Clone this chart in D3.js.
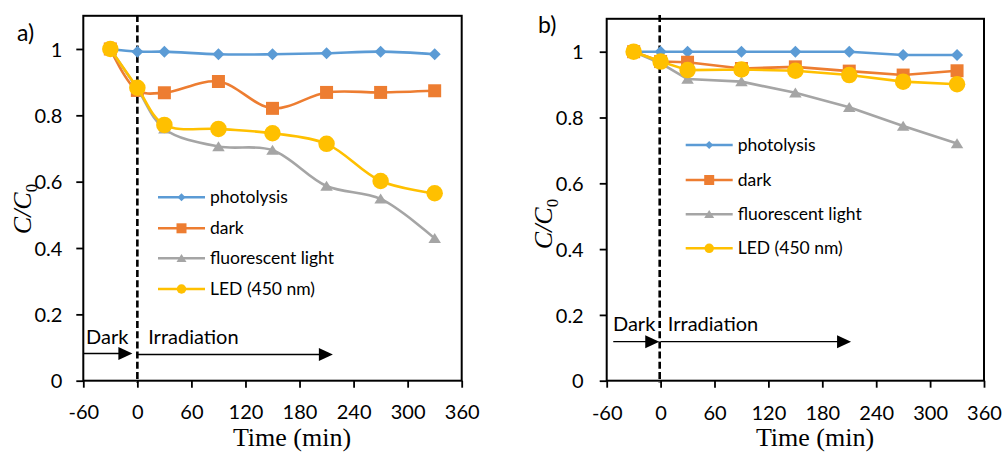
<!DOCTYPE html>
<html>
<head>
<meta charset="utf-8">
<script src="https://cdn.jsdelivr.net/npm/d3@7"></script>
<style>
  body { margin: 0; background: #fff; }
  svg { display: block; }
  .tick-label { font-family: Lato, "Open Sans", sans-serif; font-size: 20px; fill: #000; }
  .legend-label { font-family: Lato, "Open Sans", sans-serif; font-size: 17.5px; fill: #000; }
  .note { font-family: Lato, "Open Sans", sans-serif; font-size: 20px; fill: #000; }
  .panel-label { font-family: Lato, "Open Sans", sans-serif; font-size: 23px; fill: #000; }
  .axis-title { font-family: "Liberation Serif", "Times New Roman", serif; font-size: 26px; fill: #000; }
</style>
</head>
<body>
<svg id="chart" width="1003" height="452"></svg>
<script>
// Sampling times (min); -30 is the start of the dark adsorption period
const times = [-30, 0, 30, 90, 150, 210, 270, 330];

const seriesNames  = ["photolysis", "dark", "fluorescent light", "LED (450 nm)"];
const seriesColors = ["#5B9BD5", "#ED7D31", "#A5A5A5", "#FFC000"];
const seriesShapes = ["diamond", "square", "triangle", "circle"];

// Panel a) C/C0 values
const aPhotolysis  = [1.000, 0.992, 0.992, 0.984, 0.984, 0.987, 0.992, 0.984];
const aDark        = [1.000, 0.875, 0.868, 0.902, 0.821, 0.869, 0.869, 0.874];
const aFluorescent = [1.000, 0.880, 0.759, 0.706, 0.695, 0.587, 0.548, 0.429];
const aLed         = [1.000, 0.883, 0.771, 0.759, 0.746, 0.714, 0.602, 0.565];

// Panel b) C/C0 values
const bPhotolysis  = [1.000, 1.000, 1.000, 1.000, 1.000, 1.000, 0.990, 0.990];
const bDark        = [1.000, 0.970, 0.968, 0.949, 0.954, 0.941, 0.929, 0.942];
const bFluorescent = [1.000, 0.965, 0.917, 0.909, 0.875, 0.831, 0.774, 0.721];
const bLed         = [1.000, 0.970, 0.944, 0.946, 0.942, 0.929, 0.909, 0.901];

const xTicks = [-60, 0, 60, 120, 180, 240, 300, 360];
const yTicks = [0, 0.2, 0.4, 0.6, 0.8, 1];
const xDomain = [-60, 360];
const yDomain = [0, 1.1];

// Dark / irradiation periods (min) shown by arrows
const aDarkPeriod = [-60, -5.5];
const aIrrPeriod  = [0, 217];
const bDarkPeriod = [-52.7, -1.5];
const bIrrPeriod  = [0, 212];

const svg = d3.select("#chart");

function markerPath(shape, s) {
  // s = nominal size in px
  const h = s / 2;
  switch (shape) {
    case "diamond":  return `M0,${-h}L${h},0L0,${h}L${-h},0Z`;
    case "square":   return `M${-h},${-h}H${h}V${h}H${-h}Z`;
    case "triangle": return `M0,${-h * 0.85}L${h},${h * 0.75}L${-h},${h * 0.75}Z`;
    default:         return d3.symbol(d3.symbolCircle, Math.PI * h * h)();
  }
}

const markerSizes = { diamond: 12, square: 13, triangle: 12.5, circle: 16.5 };
const legendMarkerSizes = { diamond: 8, square: 10, triangle: 10, circle: 9.5 };

function drawPanel(cfg) {
  const g = svg.append("g");
  const x = d3.scaleLinear().domain(xDomain).range([cfg.left, cfg.right]);
  const y = d3.scaleLinear().domain(yDomain).range([cfg.bottom, cfg.top]);

  // X axis (plain hyphen for negative values)
  const xAxis = g.append("g")
    .attr("transform", `translate(0,${cfg.bottom})`)
    .call(d3.axisBottom(x).tickValues(xTicks).tickSize(7).tickPadding(8).tickFormat(d => String(d)));
  xAxis.select(".domain").remove();
  xAxis.selectAll(".tick line").attr("stroke", "#000").attr("stroke-width", 1.8);
  xAxis.selectAll(".tick text").attr("class", "tick-label").attr("font-family", null).attr("font-size", null)
    .attr("dy", null).attr("y", cfg.xLabelY - cfg.bottom);

  // Y axis
  const yAxis = g.append("g")
    .attr("transform", `translate(${cfg.left},0)`)
    .call(d3.axisLeft(y).tickValues(yTicks).tickSize(7).tickPadding(cfg.yPad).tickFormat(d => String(d)));
  yAxis.select(".domain").remove();
  yAxis.selectAll(".tick line").attr("stroke", "#000").attr("stroke-width", 1.8);
  yAxis.selectAll(".tick text").attr("class", "tick-label").attr("font-family", null).attr("font-size", null)
    .attr("dy", "0.36em");

  // Plot frame
  g.append("rect")
    .attr("x", cfg.left).attr("y", cfg.top)
    .attr("width", cfg.right - cfg.left).attr("height", cfg.bottom - cfg.top)
    .attr("fill", "none").attr("stroke", "#000").attr("stroke-width", 2);

  // Start of irradiation (dashed line)
  g.append("line")
    .attr("x1", x(cfg.switchTime)).attr("x2", x(cfg.switchTime))
    .attr("y1", cfg.dashTop).attr("y2", cfg.bottom + 2)
    .attr("stroke", "#000").attr("stroke-width", 2.6).attr("stroke-dasharray", "7,3.2");

  // Arrows for dark and irradiation periods
  function arrow(period, yv, lineW) {
    const x0 = x(period[0]), x1 = x(period[1]), yy = y(yv);
    g.append("line").attr("x1", x0).attr("x2", x1 - 10).attr("y1", yy).attr("y2", yy)
      .attr("stroke", "#000").attr("stroke-width", lineW);
    g.append("path")
      .attr("d", `M${x1},${yy}L${x1 - 14},${yy - 6.5}L${x1 - 14},${yy + 6.5}Z`)
      .attr("fill", "#000");
  }
  arrow(cfg.darkPeriod, cfg.darkArrowY, 1.3);
  arrow(cfg.irrPeriod, cfg.irrArrowY, 1.3);
  g.append("text").attr("class", "note").attr("x", x(cfg.darkTextX)).attr("y", y(cfg.noteY)).text("Dark");
  g.append("text").attr("class", "note").attr("x", x(cfg.irrTextX)).attr("y", y(cfg.noteY)).text("Irradiation");

  // Data series
  const line = d3.line()
    .x((d, i) => x(times[i]))
    .y(d => y(d))
    .curve(cfg.smooth ? d3.curveCatmullRom.alpha(0.5) : d3.curveLinear);

  cfg.series.forEach((vals, si) => {
    const color = seriesColors[si];
    const shape = seriesShapes[si];
    g.append("path").datum(vals)
      .attr("d", line)
      .attr("fill", "none").attr("stroke", color)
      .attr("stroke-width", 2.6).attr("stroke-linejoin", "round").attr("stroke-linecap", "round");
    g.selectAll(null).data(vals).enter().append("path")
      .attr("transform", (d, i) => `translate(${x(times[i])},${y(d)})`)
      .attr("d", markerPath(shape, markerSizes[shape]))
      .attr("fill", color);
  });

  // Legend
  seriesNames.forEach((name, si) => {
    const ly = cfg.legendY[si];
    const color = seriesColors[si];
    const shape = seriesShapes[si];
    g.append("line").attr("x1", cfg.legendX).attr("x2", cfg.legendX + 47)
      .attr("y1", ly).attr("y2", ly).attr("stroke", color).attr("stroke-width", 2.6);
    g.append("path").attr("transform", `translate(${cfg.legendX + 23.5},${ly})`)
      .attr("d", markerPath(shape, legendMarkerSizes[shape])).attr("fill", color);
    g.append("text").attr("class", "legend-label")
      .attr("x", cfg.legendX + 52).attr("y", ly).attr("dy", "0.35em").text(name);
  });

  // Axis titles
  g.append("text").attr("class", "axis-title")
    .attr("x", cfg.xTitleX).attr("y", cfg.xTitleY).attr("text-anchor", "middle").text("Time (min)");

  const yt = g.append("text").attr("class", "axis-title")
    .attr("transform", `translate(${cfg.yTitleX},${cfg.yTitleY}) rotate(-90)`)
    .attr("text-anchor", "middle");
  yt.append("tspan").attr("font-style", "italic").text("C/C");
  yt.append("tspan").attr("font-size", "17px").attr("dy", "6").text("0");

  // Panel label
  g.append("text").attr("class", "panel-label").attr("x", cfg.labelX).attr("y", cfg.labelY).text(cfg.label);
}

drawPanel({
  label: "a)", labelX: 17, labelY: 41,
  left: 83.3, right: 461.7, top: 15.8, bottom: 380.7,
  xLabelY: 419, yPad: 14,
  dashTop: 15, switchTime: 0,
  darkPeriod: aDarkPeriod, irrPeriod: aIrrPeriod, darkArrowY: 0.082, irrArrowY: 0.079,
  noteY: 0.111, darkTextX: -57, irrTextX: 12,
  smooth: true,
  series: [aPhotolysis, aDark, aFluorescent, aLed],
  legendX: 158, legendY: [197.3, 228.3, 258.3, 289],
  xTitleX: 292, xTitleY: 446,
  yTitleX: 31, yTitleY: 209
});

drawPanel({
  label: "b)", labelX: 538, labelY: 33,
  left: 606.7, right: 984, top: 18.8, bottom: 380.7,
  xLabelY: 420, yPad: 16,
  dashTop: 15, switchTime: -1,
  darkPeriod: bDarkPeriod, irrPeriod: bIrrPeriod, darkArrowY: 0.1185, irrArrowY: 0.1185,
  noteY: 0.151, darkTextX: -53, irrTextX: 8,
  smooth: false,
  series: [bPhotolysis, bDark, bFluorescent, bLed],
  legendX: 685.7, legendY: [145, 180, 214.3, 248.3],
  xTitleX: 815, xTitleY: 446,
  yTitleX: 552, yTitleY: 224
});
</script>
</body>
</html>
